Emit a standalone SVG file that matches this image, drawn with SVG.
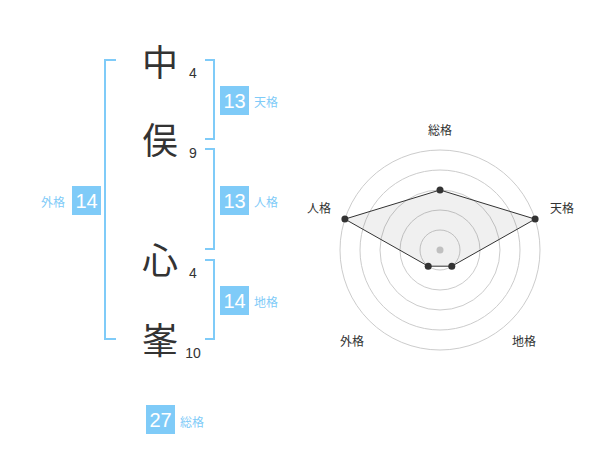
<svg xmlns="http://www.w3.org/2000/svg" width="600" height="470" viewBox="0 0 600 470">
<style>
.ch{font-family:"Noto Sans CJK JP","Noto Sans CJK SC",sans-serif;font-size:36px;fill:#333;text-anchor:middle}
.num{font-family:"Liberation Sans","Noto Sans",sans-serif;font-size:14px;fill:#333;text-anchor:middle}
.br{fill:none;stroke:#7fcbf8;stroke-width:2}
.box{fill:#7fcbf8}
.bn{font-family:"Liberation Sans","Noto Sans",sans-serif;font-size:20px;fill:#fff;text-anchor:middle}
.lb{font-family:"Noto Sans CJK JP",sans-serif;font-size:12px;fill:#7fcbf8}
.ring{fill:none;stroke:#cccccc;stroke-width:1}
.rl{font-family:"Noto Sans CJK JP",sans-serif;font-size:12px;fill:#333;text-anchor:middle}
.dot{fill:#333}
</style>
<rect width="600" height="470" fill="#fff"/>
<g id="chars">
<text class="ch" x="160" y="76">中</text>
<text class="ch" x="160" y="154">俣</text>
<text class="ch" x="160" y="274">心</text>
<text class="ch" x="160" y="354">峯</text>
<text class="num" x="193" y="78">4</text>
<text class="num" x="193" y="158">9</text>
<text class="num" x="193" y="278">4</text>
<text class="num" x="193" y="358">10</text>
</g>
<g id="connectors">
<path class="br" d="M116,60 H105 V339 H116"/>
<path class="br" d="M205,60 H214 V139 H205"/>
<path class="br" d="M205,149 H214 V249 H205"/>
<path class="br" d="M205,260 H214 V339 H205"/>
</g>
<g id="tenkaku">
<rect class="box" x="220" y="86" width="29" height="29"/>
<text class="bn" x="234.5" y="108">13</text>
<text class="lb" x="254" y="107">天格</text>
</g>
<g id="jinkaku">
<rect class="box" x="220" y="186" width="29" height="29"/>
<text class="bn" x="234.5" y="208">13</text>
<text class="lb" x="254" y="207">人格</text>
</g>
<g id="chikaku">
<rect class="box" x="220" y="286" width="29" height="29"/>
<text class="bn" x="234.5" y="308">14</text>
<text class="lb" x="254" y="307">地格</text>
</g>
<g id="gaikaku">
<rect class="box" x="72" y="186" width="29" height="29"/>
<text class="bn" x="86.5" y="208">14</text>
<text class="lb" x="41" y="207">外格</text>
</g>
<g id="soukaku">
<rect class="box" x="146" y="405" width="29" height="29"/>
<text class="bn" x="160.5" y="427">27</text>
<text class="lb" x="180" y="427">総格</text>
</g>
<g id="radar">
<circle class="ring" cx="440" cy="250" r="20"/>
<circle class="ring" cx="440" cy="250" r="40"/>
<circle class="ring" cx="440" cy="250" r="60"/>
<circle class="ring" cx="440" cy="250" r="80"/>
<circle class="ring" cx="440" cy="250" r="100"/>
<circle cx="440" cy="250" r="3.5" fill="#cccccc"/>
<polygon points="440,190 535.1,219.1 451.8,266.2 428.2,266.2 344.9,219.1" fill="#000" fill-opacity="0.06" stroke="#333" stroke-width="1"/>
<circle class="dot" cx="440" cy="190" r="3.5"/>
<circle class="dot" cx="535.1" cy="219.1" r="3.5"/>
<circle class="dot" cx="451.8" cy="266.2" r="3.5"/>
<circle class="dot" cx="428.2" cy="266.2" r="3.5"/>
<circle class="dot" cx="344.9" cy="219.1" r="3.5"/>
<text class="rl" x="440" y="135">総格</text>
<text class="rl" x="562" y="213">天格</text>
<text class="rl" x="319" y="213">人格</text>
<text class="rl" x="352" y="346">外格</text>
<text class="rl" x="524" y="346">地格</text>
</g>
</svg>
